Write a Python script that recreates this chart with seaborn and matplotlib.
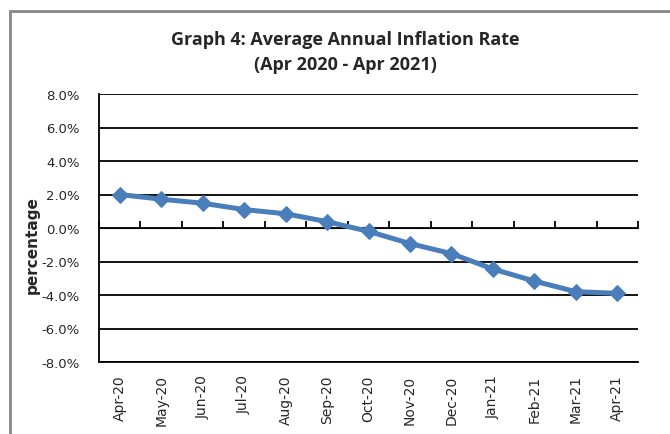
import seaborn as sns
import matplotlib.pyplot as plt
import matplotlib.patches as mpatches
from matplotlib.ticker import FuncFormatter
import pandas as pd

# Datos
meses = ['Apr-20', 'May-20', 'Jun-20', 'Jul-20', 'Aug-20', 'Sep-20', 'Oct-20',
         'Nov-20', 'Dec-20', 'Jan-21', 'Feb-21', 'Mar-21', 'Apr-21']
inflacion = [2.0, 1.72, 1.48, 1.1, 0.85, 0.38, -0.2, -0.93, -1.53, -2.45, -3.17, -3.8, -3.9]

df = pd.DataFrame({'Mes': meses, 'Inflacion': inflacion})

sns.set_style('white')
plt.rcParams['font.family'] = ['DejaVu Sans']

fig = plt.figure(figsize=(6.7, 4.35), dpi=100)
ax = fig.add_axes([99 / 670, 1 - 363 / 435, 539 / 670, 268 / 435])

sns.lineplot(x='Mes', y='Inflacion', data=df, ax=ax, color='#4a7ebb',
             linewidth=3.6, marker='D', markersize=8.5,
             markeredgecolor='#4a7ebb', sort=False)

ax.set_ylim(-8, 8)
ax.set_xlim(-0.5, len(meses) - 0.5)
ax.set_yticks(range(-8, 9, 2))
ax.yaxis.set_major_formatter(FuncFormatter(lambda v, p: f'{v:.1f}%'))
ax.yaxis.grid(True, color='black', linewidth=1.3)
ax.set_axisbelow(True)

for lado in ['top', 'right']:
    ax.spines[lado].set_visible(False)
for lado in ['left', 'bottom']:
    ax.spines[lado].set_color('black')
    ax.spines[lado].set_linewidth(1.3)

ax.set_xticks(range(len(meses)))
ax.set_xticklabels(meses, rotation=90, fontsize=10)
ax.tick_params(axis='x', length=0, pad=9)
ax.tick_params(axis='y', length=0, labelsize=9.5, pad=14)

# marcas del eje de categorias sobre la linea de 0%
eje0 = ax.secondary_xaxis(0.5)
eje0.set_xticks([i - 0.5 for i in range(len(meses) + 1)])
eje0.set_xticklabels([])
eje0.tick_params(axis='x', direction='out', length=5, width=1.3, color='black')
eje0.spines['bottom'].set_visible(False)

ax.set_xlabel('')
ax.set_ylabel('percentage', fontsize=11, fontweight='bold', labelpad=2)
ax.yaxis.set_label_coords(-0.11, 0.44)

fig.text(0.515, 0.908, 'Graph 4: Average Annual Inflation Rate',
         ha='center', va='center', fontsize=13, fontweight='bold', family='Open Sans')
fig.text(0.515, 0.851, '(Apr 2020 - Apr 2021)',
         ha='center', va='center', fontsize=13, fontweight='bold', family='Open Sans')

# marco gris exterior
fig.patches.append(mpatches.Rectangle((10 / 670, -0.1), 1.2, 1 - 12 / 435 + 0.1,
                                      transform=fig.transFigure, fill=False,
                                      edgecolor='#888888', linewidth=2))

fig.savefig('out.png', dpi=100)
